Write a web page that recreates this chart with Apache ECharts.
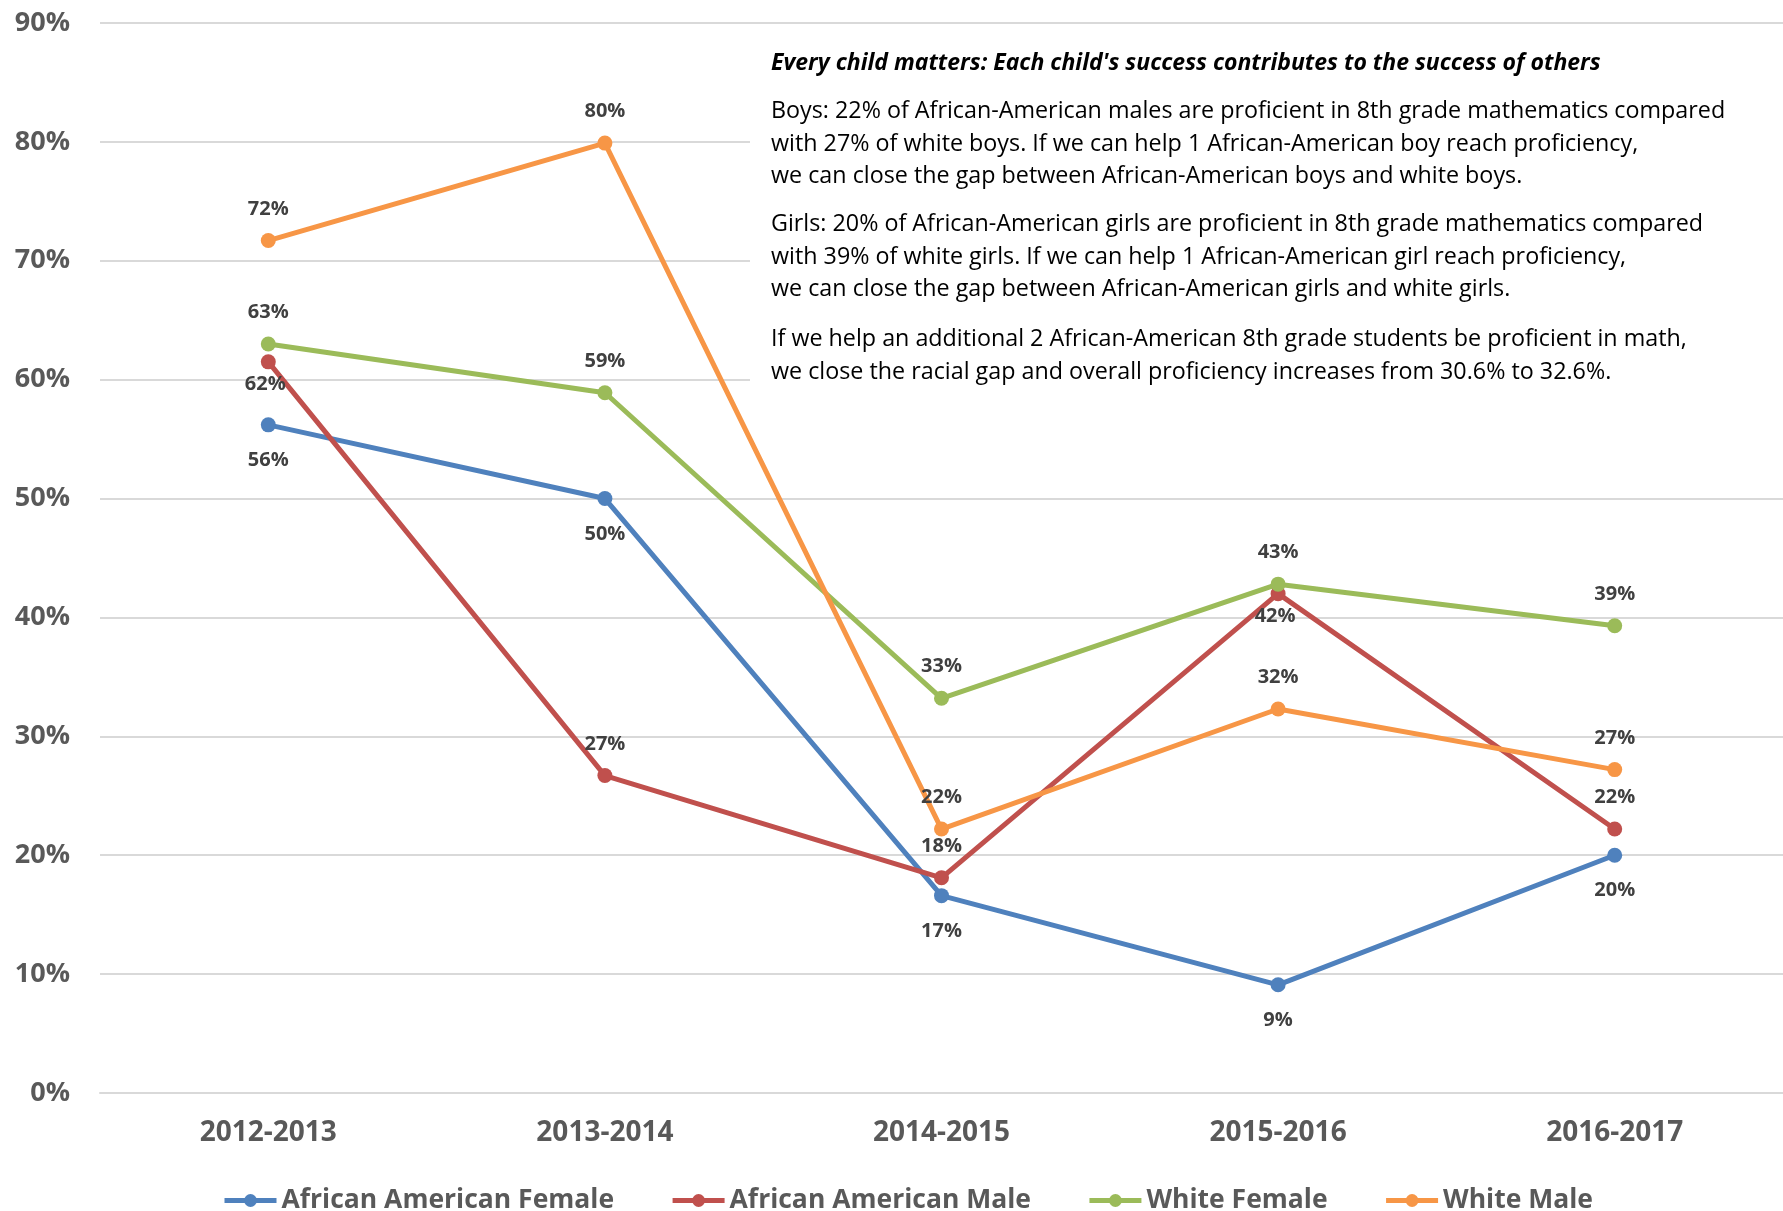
<!DOCTYPE html>
<html>
<head>
<meta charset="utf-8">
<script src="https://cdn.jsdelivr.net/npm/echarts@6/dist/echarts.min.js"></script>
<style>
html,body{margin:0;padding:0;background:#fff;}
#chart{width:1783px;height:1211px;}
</style>
</head>
<body>
<div id="chart"></div>
<script>
const categories = ['2012-2013', '2013-2014', '2014-2015', '2015-2016', '2016-2017'];
const seriesNames = ['African American Female', 'African American Male', 'White Female', 'White Male'];
const aaFemale = [56.2, 50.0, 16.6, 9.1, 20.0];
const aaMale = [61.5, 26.7, 18.1, 42.0, 22.2];
const whiteFemale = [63.0, 58.9, 33.2, 42.8, 39.3];
const whiteMale = [71.7, 79.9, 22.2, 32.3, 27.2];
// label placement per point: 't' above, 'b' below, 'n' below (near)
const aaFemalePos = ['b', 'b', 'b', 'b', 'b'];
const aaMalePos = ['n', 't', 't', 'n', 't'];
const whiteFemalePos = ['t', 't', 't', 't', 't'];
const whiteMalePos = ['t', 't', 't', 't', 't'];
const noteTitle = "Every child matters: Each child's success contributes to the success of others";
const noteLines = [
  'Boys: 22% of African-American males are proficient in 8th grade mathematics compared',
  'with 27% of white boys. If we can help 1 African-American boy reach proficiency,',
  'we can close the gap between African-American boys and white boys.',
  'Girls: 20% of African-American girls are proficient in 8th grade mathematics compared',
  'with 39% of white girls. If we can help 1 African-American girl reach proficiency,',
  'we can close the gap between African-American girls and white girls.',
  'If we help an additional 2 African-American 8th grade students be proficient in math,',
  'we close the racial gap and overall proficiency increases from 30.6% to 32.6%.'
];

const colors = ['#4F81BD', '#C0504D', '#9BBB59', '#F79646'];
const FONT = '"Open Sans", "Liberation Sans", sans-serif';

function buildData(vals, pos) {
  return vals.map((v, i) => {
    const p = pos[i];
    let label;
    if (p === 't') label = { position: 'top', distance: 14 };
    else if (p === 'b') label = { position: 'bottom', distance: 18 };
    else label = { position: 'bottom', distance: 5, offset: [-3, 0] };
    return { value: v, label: label };
  });
}

const allVals = [aaFemale, aaMale, whiteFemale, whiteMale];
const allPos = [aaFemalePos, aaMalePos, whiteFemalePos, whiteMalePos];

const series = seriesNames.map((name, k) => ({
  name: name,
  type: 'line',
  data: buildData(allVals[k], allPos[k]),
  symbol: 'circle',
  symbolSize: 15,
  lineStyle: { width: 5, color: colors[k] },
  itemStyle: { color: colors[k] },
  label: {
    show: true,
    fontFamily: FONT,
    fontWeight: 'bold',
    fontSize: 20,
    color: '#404040',
    formatter: p => Math.round(p.value) + '%'
  },
  emphasis: { disabled: true },
  animation: false
}));

const noteY = [111, 144, 176, 224, 257, 289, 339, 372];
const graphics = [
  { type: 'rect', z: 1, shape: { x: 750, y: 36, width: 1040, height: 362 }, style: { fill: '#fff' } },
  { type: 'text', z: 100, x: 771, y: 63,
    style: { text: noteTitle, font: 'italic bold 23px ' + FONT, fill: '#000', verticalAlign: 'middle' } }
];
noteLines.forEach((t, i) => {
  graphics.push({
    type: 'text', z: 100, x: 771, y: noteY[i],
    style: { text: t, font: '23.3px ' + FONT, fill: '#000', verticalAlign: 'middle' }
  });
});

const chart = echarts.init(document.getElementById('chart'), null, { renderer: 'canvas' });
chart.setOption({
  backgroundColor: '#fff',
  color: colors,
  animation: false,
  grid: { left: 100, right: -2, top: 23, bottom: 1211 - 1093, containLabel: false },
  xAxis: {
    type: 'category',
    data: categories,
    boundaryGap: true,
    axisLine: { show: true, lineStyle: { color: '#D9D9D9', width: 2 } },
    axisTick: { show: false },
    axisLabel: { fontFamily: FONT, fontWeight: 'bold', fontSize: 28, color: '#595959', margin: 26 }
  },
  yAxis: {
    type: 'value',
    min: 0, max: 90, interval: 10,
    axisLine: { show: false },
    axisTick: { show: false },
    splitLine: { lineStyle: { color: '#D9D9D9', width: 2 } },
    axisLabel: { fontFamily: FONT, fontWeight: 'bold', fontSize: 27, color: '#595959', margin: 30, formatter: '{value}%' }
  },
  legend: {
    left: 217, top: 1182,
    itemWidth: 52, itemHeight: 16, itemGap: 56,
    lineStyle: { width: 5 },
    textStyle: { fontFamily: FONT, fontWeight: 'bold', fontSize: 26.5, color: '#595959' },
    data: seriesNames
  },
  graphic: graphics,
  series: series
});
</script>
</body>
</html>
